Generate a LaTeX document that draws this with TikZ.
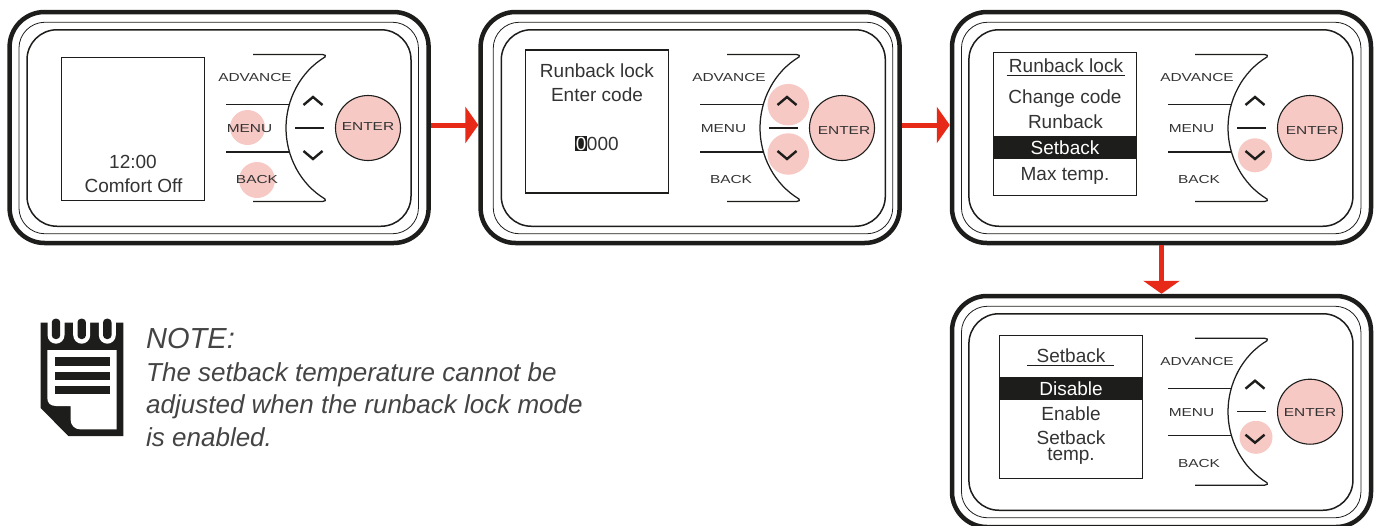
\documentclass[tikz,border=0pt]{standalone}
\usepackage{fontspec}
\usepackage{xcolor}
\setmainfont{Liberation Sans}
\newfontfamily\keyFont[FakeStretch=1.33]{Liberation Sans}
\usetikzlibrary{arrows.meta}
\definecolor{LightPink}{HTML}{F7C9C5}
\definecolor{ArrowRed}{HTML}{E62A17}
\definecolor{InkGray}{HTML}{333333}
\definecolor{NoteGray}{HTML}{444444}
\definecolor{BarBlack}{HTML}{1D1D1B}
\tikzstyle{panelOuter}=[draw=BarBlack,line width=4.5pt,rounded corners=35pt,minimum width=419pt,minimum height=231pt,inner sep=0pt]
\tikzstyle{panelMiddle}=[draw=BarBlack,line width=0.8pt,rounded corners=26pt,minimum width=399.5pt,minimum height=211.5pt,inner sep=0pt]
\tikzstyle{panelInner}=[draw=BarBlack,line width=1.5pt,rounded corners=30pt,minimum width=384pt,minimum height=196.5pt,inner sep=0pt]
\tikzstyle{screenBox}=[draw=BarBlack,line width=1.2pt,minimum size=143pt,inner sep=0pt]
\tikzstyle{screenText}=[anchor=base,inner sep=0pt,text=InkGray,font=\fontsize{19}{19}\selectfont]
\tikzstyle{invertText}=[screenText,text=white]
\tikzstyle{invertBar}=[fill=BarBlack,minimum width=143pt,minimum height=23pt,inner sep=0pt]
\tikzstyle{keyLabel}=[inner sep=0pt,text=InkGray,yshift=-0.8pt,font=\keyFont\fontsize{11.6}{11.6}\selectfont]
\tikzstyle{enterKey}=[draw=BarBlack,circle,fill=LightPink,line width=1.1pt,minimum size=65pt,inner sep=0pt]
\tikzstyle{pinkSpot}=[circle,fill=LightPink,inner sep=0pt]
\tikzstyle{keyLine}=[draw=BarBlack,line width=1.25pt]
\tikzstyle{chevronLine}=[draw=BarBlack,line width=2.4pt]
\tikzstyle{stepArrow}=[draw=ArrowRed,line width=5pt,-{Triangle[width=36pt,length=13pt]}]
\tikzstyle{noteText}=[anchor=base west,inner sep=0pt,text=NoteGray,align=left]
% three rounded outlines of one unit
\newcommand{\panelFrame}[5]{
    \node[panelOuter] (panel#1) at (#2,#5) {};
    \node[panelMiddle] (middle#1) at (#3,#5+0.5) {};
    \node[panelInner] (inner#1) at (#4,#5+0.5) {};
}
% keys of one unit, drawn at the place of the first unit and moved by #2,#3
\newcommand{\keyPad}[5]{
    \begin{scope}[shift={(#2,#3)}]
    \draw[keyLine] (253,54.5) -- (322.5,54.5) .. controls (325,54.5) and (326.5,56) .. (325,57)
        .. controls (300,72) and (286,100) .. (286,128)
        .. controls (286,156) and (300,184) .. (325,199)
        .. controls (326.5,200) and (325,201.5) .. (322.5,201.5) -- (253,201.5);
    \draw[keyLine] (226,104.5) -- (288.5,104.5);
    \draw[keyLine] (226,152) -- (288.5,152);
    \draw[keyLine] (295,128) -- (324,128);
    \draw[chevronLine] (303.5,105) -- (313,97) -- (322.5,105);
    \draw[chevronLine] (303.5,151) -- (313,159) -- (322.5,151);
    \node[enterKey] (enter#1) at (368,128) {};
    \node[keyLabel] (enterText#1) at (368+#4,128+#5) {ENTER};
    \node[keyLabel] (advance#1) at (255,77) {ADVANCE};
    \node[keyLabel] (menu#1) at (249.5,128) {MENU};
    \node[keyLabel] (back#1) at (257,179) {BACK};
    \end{scope}
}
\newcommand{\noteRing}[1]{
    \begin{scope}[shift={(#1,0)}]
    \fill[white] (-8.5,322) -- (-8.5,335) .. controls (-8.5,340) and (-4.5,343.7) .. (0,343.7)
        .. controls (4.5,343.7) and (8.5,340) .. (8.5,335) -- (8.5,322) -- cycle;
    \fill[BarBlack,rounded corners=3.6pt] (-4.2,318.7) rectangle (4.2,339);
    \end{scope}
}

\begin{document}
\begin{tikzpicture}[x=1pt,y=-1pt]
    \useasboundingbox (0,0) rectangle (1378,525);

    % Highlighted keys
    \node[pinkSpot,minimum size=35pt] (spotMenuA) at (247.5,127.5) {};
    \node[pinkSpot,minimum size=36pt] (spotBackA) at (257,180) {};
    \node[pinkSpot,minimum size=41.5pt] (spotUpB) at (788.3,104.7) {};
    \node[pinkSpot,minimum size=41.5pt] (spotDownB) at (788.3,154) {};
    \node[pinkSpot,minimum size=34pt] (spotDownC) at (1255,155.3) {};
    \node[pinkSpot,minimum size=33pt] (spotDownD) at (1256,437.3) {};

    % First unit
    \panelFrame{A}{219.1}{218.7}{219}{127.5}
    \keyPad{A}{0}{0}{0}{-2}
    \node[screenBox] (screenA) at (133.3,129) {};
    \node[screenText] (clockA) at (133,168.5) {12:00};
    \node[screenText] (comfortA) at (133.5,192.7) {Comfort Off};

    % Second unit
    \panelFrame{B}{690.1}{693}{693.3}{127.5}
    \keyPad{B}{474}{0}{2}{2}
    \node[screenBox] (screenB) at (597,121.5) {};
    \node[screenText] (titleB) at (597,77.3) {Runback lock};
    \node[screenText] (enterCodeB) at (597,101) {Enter code};
    \node[screenText] (codeB) at (597,150) {\setlength{\fboxsep}{0.5pt}\colorbox{BarBlack}{\textcolor{white}{0}}000};

    % Third unit
    \panelFrame{C}{1161.5}{1161.2}{1160.9}{127.5}
    \keyPad{C}{942}{0}{2}{2}
    \node[screenBox] (screenC) at (1065.2,123.6) {};
    \node[screenText] (titleC) at (1066,72.5) {Runback lock};
    \draw[line width=0.8pt,draw=BarBlack] (1006.7,75.3) -- (1125,75.3);
    \node[screenText] (changeC) at (1065,103.5) {Change code};
    \node[screenText] (runbackC) at (1065.5,128.3) {Runback};
    \node[invertBar] (barC) at (1065.2,147.5) {};
    \node[invertText] (setbackC) at (1065,154) {Setback};
    \node[screenText] (maxC) at (1065,180) {Max temp.};

    % Fourth unit
    \panelFrame{D}{1161.5}{1161.2}{1160.9}{411.5}
    \keyPad{D}{942}{283.7}{0}{0}
    \node[screenBox] (screenD) at (1070.8,407.3) {};
    \node[screenText] (titleD) at (1071,362) {Setback};
    \draw[line width=0.8pt,draw=BarBlack] (1027.3,365) -- (1114.3,365);
    \node[invertBar] (barD) at (1070.8,388.5) {};
    \node[invertText] (disableD) at (1071,395) {Disable};
    \node[screenText] (enableD) at (1071,420) {Enable};
    \node[screenText,align=center,font=\fontsize{19}{16}\selectfont] (setbackD) at (1071,460) {Setback\\temp.};

    % Steps between units
    \draw[stepArrow] ([yshift=2.5pt]panelA.east) -- ([yshift=2.5pt]panelB.west);
    \draw[stepArrow] ([yshift=2.5pt]panelB.east) -- ([yshift=2.5pt]panelC.west);
    \draw[stepArrow] (panelC.south) -- (panelD.north);

    % Note pad
    \fill[BarBlack] (40.7,322.7) -- (123.3,322.7) -- (123.3,436) -- (68.3,436) -- (40.7,408) -- cycle;
    \fill[white] (47.3,350) -- (116.7,350) -- (116.7,429.3) -- (80,429.3)
        .. controls (74.5,429.3) and (70.7,425) .. (70.7,420) -- (70.7,406) -- (56,406)
        .. controls (50.5,406) and (47.3,403) .. (47.3,398) -- cycle;
    \fill[BarBlack] (55,357.3) rectangle (110,365.7);
    \fill[BarBlack] (55,371.7) rectangle (110,380);
    \fill[BarBlack] (55,386) rectangle (110,394.3);
    \noteRing{56}
    \noteRing{81.7}
    \noteRing{107.3}

    % Note text
    \node[noteText,font=\itshape\fontsize{29}{29}\selectfont] (noteTitle) at (146,348.3) {NOTE:};
    \node[noteText,font=\itshape\fontsize{26}{32.7}\selectfont,anchor=north west] (noteBody) at (146,362) {The setback temperature cannot be\\adjusted when the runback lock mode\\is enabled.};
\end{tikzpicture}
\end{document}
